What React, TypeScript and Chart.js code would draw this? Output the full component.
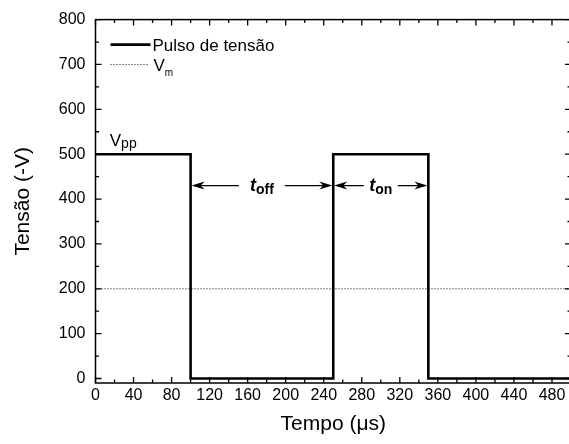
import React, { useEffect, useRef } from "react";
import { Chart, registerables } from "chart.js";

Chart.register(...registerables);

// ---- data ----
const pulseTime = [0, 100, 100, 250, 250, 350, 350, 500];
const pulseVoltage = [500, 500, 0, 0, 500, 500, 0, 0];
const vmTime = [0, 500];
const vmVoltage = [200, 200];

const xTickValues = [0, 40, 80, 120, 160, 200, 240, 280, 320, 360, 400, 440, 480];
const yTickValues = [0, 100, 200, 300, 400, 500, 600, 700, 800];
const xMinorStep = 20;
const yMinorStep = 50;

const xLabel = "Tempo (\u03bcs)";
const yLabel = "Tensão (-V)";
const legendPulse = "Pulso de tensão";
const legendVm = ["V", "m"];
const vppLabel = ["V", "pp"];
const toffLabel = ["t", "off"];
const tonLabel = ["t", "on"];

const toffRange = [100, 250];
const tonRange = [250, 350];
const arrowLevel = 430;
const vppPos = [15, 518];

const FONT = "'Liberation Sans', Arial, Helvetica, sans-serif";

type Part = { text: string; font: string; dy: number };

function drawParts(ctx: CanvasRenderingContext2D, parts: Part[], x: number, y: number, align: "left" | "center") {
  let total = 0;
  for (const p of parts) {
    ctx.font = p.font;
    total += ctx.measureText(p.text).width;
  }
  let cx = align === "center" ? x - total / 2 : x;
  ctx.textAlign = "left";
  ctx.textBaseline = "alphabetic";
  for (const p of parts) {
    ctx.font = p.font;
    ctx.fillText(p.text, cx, y + p.dy);
    cx += ctx.measureText(p.text).width;
  }
  return total;
}

function arrowHead(ctx: CanvasRenderingContext2D, tipX: number, y: number, dir: number) {
  const L = 13;
  const W = 4;
  ctx.beginPath();
  ctx.moveTo(tipX, y);
  ctx.lineTo(tipX - dir * L, y - W);
  ctx.lineTo(tipX - dir * (L - 4), y);
  ctx.lineTo(tipX - dir * L, y + W);
  ctx.closePath();
  ctx.fill();
}

function doubleArrow(ctx: CanvasRenderingContext2D, x1: number, x2: number, y: number, gapHalf: number) {
  const mid = (x1 + x2) / 2;
  ctx.lineWidth = 1.3;
  ctx.beginPath();
  ctx.moveTo(x1 + 4, y);
  ctx.lineTo(mid - gapHalf, y);
  ctx.moveTo(mid + gapHalf, y);
  ctx.lineTo(x2 - 4, y);
  ctx.stroke();
  arrowHead(ctx, x1 + 1, y, -1);
  arrowHead(ctx, x2 - 1, y, 1);
}

const decorPlugin = {
  id: "decor",
  afterDraw(chart: any) {
    const ctx: CanvasRenderingContext2D = chart.ctx;
    const { left, right, top, bottom } = chart.chartArea;
    const xs = chart.scales.x;
    const ys = chart.scales.y;
    ctx.save();
    ctx.strokeStyle = "#000";
    ctx.fillStyle = "#000";

    ctx.lineWidth = 1.5;
    ctx.strokeRect(left, top, right - left, bottom - top);

    ctx.lineWidth = 1.3;
    ctx.beginPath();
    for (let v = 0; v <= xs.max; v += xMinorStep) {
      const px = xs.getPixelForValue(v);
      const len = xTickValues.includes(v) ? 6 : 3.5;
      ctx.moveTo(px, bottom);
      ctx.lineTo(px, bottom - len);
      ctx.moveTo(px, top);
      ctx.lineTo(px, top + len);
    }
    for (let v = 0; v <= ys.max; v += yMinorStep) {
      const py = ys.getPixelForValue(v);
      const len = yTickValues.includes(v) ? 6 : 3.5;
      ctx.moveTo(left, py);
      ctx.lineTo(left + len, py);
      ctx.moveTo(right, py);
      ctx.lineTo(right - len, py);
    }
    ctx.stroke();

    // legend
    const lx1 = left + 15;
    const lx2 = left + 55;
    const ly1 = top + 25;
    const ly2 = top + 45;
    ctx.lineWidth = 2.6;
    ctx.beginPath();
    ctx.moveTo(lx1, ly1);
    ctx.lineTo(lx2, ly1);
    ctx.stroke();
    ctx.lineWidth = 1;
    ctx.setLineDash([1, 2]);
    ctx.beginPath();
    ctx.moveTo(lx1, ly2);
    ctx.lineTo(lx2 - 2, ly2);
    ctx.stroke();
    ctx.setLineDash([]);
    drawParts(ctx, [{ text: legendPulse, font: `17px ${FONT}`, dy: 0 }], lx2 + 2, ly1 + 6, "left");
    drawParts(
      ctx,
      [
        { text: legendVm[0], font: `17px ${FONT}`, dy: 0 },
        { text: legendVm[1], font: `10px ${FONT}`, dy: 5 },
      ],
      lx2 + 3,
      ly2 + 6,
      "left"
    );

    drawParts(
      ctx,
      [
        { text: vppLabel[0], font: `17px ${FONT}`, dy: 0 },
        { text: vppLabel[1], font: `14px ${FONT}`, dy: 2 },
      ],
      xs.getPixelForValue(vppPos[0]),
      ys.getPixelForValue(vppPos[1]),
      "left"
    );

    const ay = ys.getPixelForValue(arrowLevel);
    const a1 = xs.getPixelForValue(toffRange[0]);
    const a2 = xs.getPixelForValue(toffRange[1]);
    doubleArrow(ctx, a1, a2, ay, 23);
    drawParts(
      ctx,
      [
        { text: toffLabel[0], font: `italic bold 18px ${FONT}`, dy: 0 },
        { text: toffLabel[1], font: `bold 14px ${FONT}`, dy: 3 },
      ],
      (a1 + a2) / 2,
      ay + 5,
      "center"
    );
    const b1 = xs.getPixelForValue(tonRange[0]);
    const b2 = xs.getPixelForValue(tonRange[1]);
    doubleArrow(ctx, b1, b2, ay, 17);
    drawParts(
      ctx,
      [
        { text: tonLabel[0], font: `italic bold 18px ${FONT}`, dy: 0 },
        { text: tonLabel[1], font: `bold 14px ${FONT}`, dy: 3 },
      ],
      (b1 + b2) / 2,
      ay + 5,
      "center"
    );

    ctx.restore();
  },
};

export default function App() {
  const ref = useRef<HTMLCanvasElement | null>(null);

  useEffect(() => {
    if (!ref.current) return;
    const chart = new Chart(ref.current, {
      type: "line",
      data: {
        datasets: [
          {
            label: "Vm",
            data: vmTime.map((t, i) => ({ x: t, y: vmVoltage[i] })),
            borderColor: "#000",
            borderWidth: 1,
            borderDash: [1, 2],
            pointRadius: 0,
            fill: false,
          },
          {
            label: legendPulse,
            data: pulseTime.map((t, i) => ({ x: t, y: pulseVoltage[i] })),
            borderColor: "#000",
            borderWidth: 2.6,
            pointRadius: 0,
            fill: false,
            tension: 0,
          },
        ],
      },
      options: {
        animation: false,
        responsive: false,
        layout: { padding: { top: 16, right: 1, left: 0, bottom: 0 } },
        plugins: { legend: { display: false }, tooltip: { enabled: false } },
        scales: {
          x: {
            type: "linear",
            min: 0,
            max: 500,
            grid: { display: false, drawTicks: false },
            border: { display: false },
            ticks: { color: "#000", font: { size: 16, family: FONT }, padding: 3, maxRotation: 0, autoSkip: false },
            title: { display: true, text: xLabel, color: "#000", font: { size: 21, family: FONT }, padding: { top: 0, bottom: 7 } },
            afterBuildTicks: (s: any) => {
              s.ticks = xTickValues.map((v) => ({ value: v }));
            },
            afterFit: (s: any) => {
              s.height = 61;
            },
          },
          y: {
            type: "linear",
            min: -10,
            max: 800,
            grid: { display: false, drawTicks: false },
            border: { display: false },
            ticks: { color: "#000", font: { size: 16, family: FONT }, padding: 10, autoSkip: false },
            title: { display: true, text: yLabel, color: "#000", font: { size: 21, family: FONT }, padding: { top: 11, bottom: 0 } },
            afterBuildTicks: (s: any) => {
              s.ticks = yTickValues.map((v) => ({ value: v }));
            },
            afterFit: (s: any) => {
              s.width = 95.5;
            },
          },
        },
      },
      plugins: [decorPlugin],
    });
    return () => chart.destroy();
  }, []);

  return (
    <div style={{ position: "fixed", left: 0, top: 0, width: 569, height: 444, overflow: "hidden", background: "#fff" }}>
      <canvas ref={ref} width={572} height={444} />
    </div>
  );
}
